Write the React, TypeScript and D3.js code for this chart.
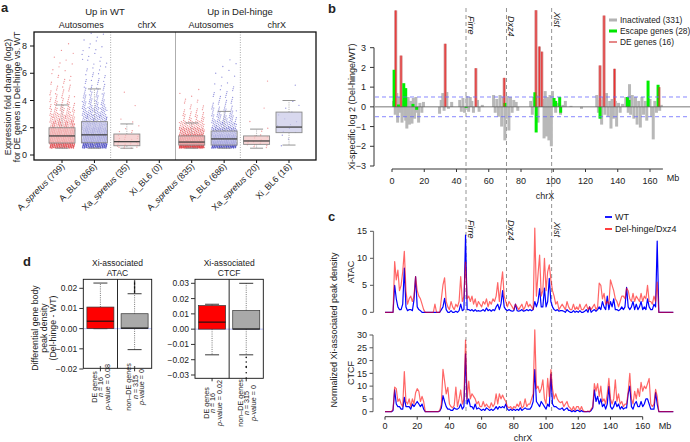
import React from 'react';
import * as d3 from 'd3';

const FONT = '"Liberation Sans", Arial, Helvetica, sans-serif';

// ---------------- Panel a data ----------------
const aLabels: [string, string, string][] = [
  ['A_', 'spretus', ' (799)'],
  ['A_BL6 (866)', '', ''],
  ['Xa_', 'spretus', ' (35)'],
  ['Xi_BL6 (0)', '', ''],
  ['A_', 'spretus', ' (835)'],
  ['A_BL6 (686)', '', ''],
  ['Xa_', 'spretus', ' (20)'],
  ['Xi_BL6 (16)', '', ''],
];
const aStrain = ['spretus', 'BL6', 'spretus', 'BL6', 'spretus', 'BL6', 'spretus', 'BL6'];
// [lower whisker, q1, median, q3, upper whisker]
const aBoxes: (number[] | null)[] = [
  [0.5, 0.88, 1.4, 2.0, 3.67],
  [0.5, 0.9, 1.48, 2.45, 4.85],
  [0.5, 0.68, 0.98, 1.54, 2.28],
  null,
  [0.5, 0.73, 0.95, 1.4, 2.35],
  [0.5, 0.73, 1.18, 1.76, 3.2],
  [0.5, 0.78, 1.03, 1.4, 1.9],
  [0.73, 1.64, 2.05, 3.15, 4.0],
];
const aBinStart = 0.5;
const aBinWidth = 0.5;
// number of genes per 0.5-wide fold-change bin, starting at 0.5
const aBinCounts = [
  [250, 170, 140, 80, 55, 35, 22, 15, 10, 7, 5, 3, 3, 2, 1, 1],
  [240, 190, 130, 90, 60, 45, 30, 22, 15, 10, 8, 6, 5, 5, 4, 3, 3],
  [14, 11, 5, 2, 1, 0, 1, 0, 1],
  [],
  [430, 210, 100, 50, 22, 12, 6, 3, 2],
  [270, 165, 100, 55, 35, 22, 12, 10, 6, 4, 3, 2, 2],
  [9, 6, 2, 1, 0, 1, 0, 0, 0, 1],
  [1, 2, 3, 3, 2, 2, 2, 0, 0, 1],
];
const aYTicks = [0, 2, 4, 6, 8];

// ---------------- Panel b data ----------------
const bInactivated: [number, number][] = [
  [1.0, 0.3], [2.0, -0.4], [3.0, 0.7], [3.5, -0.8], [4.2, 0.5], [4.8, -0.3], [5.5, 0.4], [6.2, -0.8], [6.8, 0.3], [7.8, -0.5], [8.5, -0.7], [9.2, -1.1], [10.0, 0.5], [10.8, -0.9], [11.6, 0.3], [12.4, -0.85], [13.2, 0.45], [14.0, -0.6], [14.8, 0.5], [15.6, -0.3], [16.5, -0.8], [17.3, 0.2], [18.5, -0.3], [19.5, 0.25],
  [29.5, -0.35], [30.5, 0.35], [31.5, 0.7], [32.3, -0.2], [34, 0.75], [35, -0.1], [37, 0.25],
  [42, 0.35], [43, -0.25], [44, 0.45], [45, -0.3], [46.5, 0.55], [47.5, -0.25], [48.5, 0.5], [49.5, 0.3], [50.5, -0.3], [53, 0.35], [54, -0.25], [56, 0.1],
  [63, 0.6], [64, -0.3], [65, 0.4], [66, -0.5], [67, 0.6], [68, -1.0], [69, 0.5], [70, -1.7], [70.8, -0.6], [71.5, 0.55], [72.5, -1.2], [73.5, 0.5], [74.5, -0.3], [75.5, 0.35], [77, 0.25], [78, -0.2],
  [86, 0.3], [87, -0.4], [88, 0.5], [90.5, -0.8], [91, 0.6], [93.5, 0.4], [94.3, -1.6], [95, 0.8], [95.8, -1.5], [96.5, 0.5], [97.3, -1.7], [98, 0.6], [98.8, -2.0], [99.5, 0.8],
  [101.5, -0.3], [103, 0.2], [104.5, -0.4], [106, 0.1], [107.5, 0.3], [111, 0.05], [117.5, -0.1],
  [127, 0.6], [128, -0.3], [129, 0.35], [130, -0.9], [131, 0.5], [132, -0.4], [133, 0.7], [134, -0.5], [135, 0.3], [135.8, -1.1], [136.5, 0.4], [137.3, -0.6], [138.5, 0.3], [139.3, -1.0], [140.5, 0.2], [141.5, -0.3], [143, 0.15],
  [145, 0.5], [146.5, -0.3], [147.3, 1.15], [148, -0.4], [149, 0.6], [150, -0.6], [151, 0.5], [152, -0.9], [153, 0.3], [154, -1.05], [155, 0.5], [156, -0.4], [157, 0.3], [158, -0.7], [160, 0.4], [161, -0.5], [162, -1.65], [163, 0.3], [164, -0.3], [166, -0.2], [167, 0.1],
];
const bEscape: [number, number][] = [
  [1.3, 1.88], [4.0, 0.12], [7.3, 1.2], [8.5, 0.95], [13, 0.15], [15.3, -0.15], [46, -0.05], [70, 0.2],
  [88.6, 0.74], [89.4, -1.3], [100.5, 0.45], [101.5, 0.3], [104, 0.5], [104.6, -0.3], [129, -0.6],
  [146, 0.5], [147, 0.35], [158.8, 1.33], [165, 1.12],
];
const bDE: [number, number][] = [
  [2.3, 4.89], [5.6, 2.6], [33, 3.2], [52, 1.96], [69.6, 1.47], [89.3, 4.9], [91.4, 3.06], [92.9, 2.8],
  [129, 2.1], [131.5, 4.63], [138, 1.93], [165.6, 1.0],
];
const bXTicks = [0, 20, 40, 60, 80, 100, 120, 140, 160];
const bYTicks = [-3, -2, -1, 0, 1, 2, 3];
const bLegend = ['Inactivated (331)', 'Escape genes (28)', 'DE genes (16)'];
const geneMarks = ['Firre', 'Dxz4', 'Xist'];
const geneMarkMb = [45.9, 71.0, 99.0];

// ---------------- Panel c data (1-Mb bins, 0..179 Mb) ----------------
const atacDel = [
  0, 0, 0, 0, 0, 0, 9.4, 6, 7.8, 4,
  5, 7.5, 11.3, 4, 1.5, 2.5, 3, 2, 3, 6.6,
  4, 3, 2.5, 1.5, 0.5, 0, 0, 0, 0, 0,
  0, 1.5, 0, 0, 0, 2.5, 5.1, 6.4, 2, 1,
  0.5, 2, 1, 0.5, 1.5, 1, 2, 6.6, 2, 3,
  9.3, 2.5, 3, 2, 3, 1.5, 2.5, 1, 2, 1.5,
  1, 2, 1.5, 2.5, 1, 2, 1.5, 2.5, 2, 3,
  5.5, 2, 5, 7.5, 3, 2, 1, 2, 1.5, 1,
  0.5, 1.5, 1, 0.5, 1, 1.5, 0.5, 1, 2, 1,
  1.5, 1, 0.5, 15.6, 3, 7, 10.6, 3, 4, 10,
  4, 7.5, 8.8, 6, 4, 3, 1.5, 2, 0.5, 1,
  1.5, 1, 0.5, 2, 1, 0.5, 0.5, 1.5, 0.5, 1,
  0.5, 1.5, 0.5, 0.5, 1, 1.5, 0.5, 1, 0.5, 1,
  1.5, 0.5, 1, 5.4, 5, 2.5, 3.5, 1.5, 2, 1.5,
  6, 5, 4, 2.5, 2, 1, 2, 3, 3, 2.5,
  4.5, 4, 2.5, 2, 3.5, 2, 3, 2.5, 2, 3.5,
  2, 3, 2.5, 5, 2, 2, 1.5, 3, 2, 5.6,
  0, 0, 0, 0, 0, 0, 0, 0, 0, 0,
];
const atacWT = [
  0, 0, 0, 0, 0, 0, 5, 2.5, 1, 0.5,
  0.5, 1.5, 8.2, 1, 0.3, 0.5, 0.5, 0.3, 2.3, 6.6,
  1, 0.5, 0.3, 0, 0, 0, 0, 0, 0, 0,
  0, 0, 0, 0, 0, 0.5, 1, 2.6, 0.5, 0,
  0, 0.3, 0, 0, 0.2, 0, 0.3, 1.5, 0.3, 0.5,
  14.3, 0.5, 0.5, 0.3, 0.5, 0.2, 0.5, 0.2, 0.3, 0.2,
  0.3, 0.5, 0.2, 0.8, 0.3, 0.5, 0.2, 0.5, 0.3, 1,
  1.5, 0.5, 1.5, 4, 1, 0.5, 0.3, 0.5, 0.3, 0.2,
  0.3, 1.5, 0.3, 0.2, 0.3, 0.5, 0.2, 0.3, 0.5, 0.3,
  0.5, 0.3, 0.5, 2, 1, 2, 4.4, 1, 1, 4.5,
  1, 2, 6.3, 2, 1, 0.5, 0.3, 0.5, 0.2, 0.3,
  0.3, 0.2, 0, 0.5, 0.2, 0, 0, 0.3, 0, 0.2,
  0, 0.3, 0, 0, 0.2, 0.5, 0, 1, 0, 0.3,
  0.5, 0.2, 0.5, 1, 0.5, 2, 1, 0.5, 3, 0.5,
  2, 1, 2.5, 0.5, 0.5, 0.3, 0.5, 1, 0.5, 1,
  4.6, 1, 0.5, 1, 2, 0.5, 1.5, 0.5, 1, 2,
  0.5, 1, 0.5, 2.5, 1, 0.5, 0.5, 1.5, 1, 13.2,
  0, 0, 0, 0, 0, 0, 0, 0, 0, 0,
];
const ctcfDel = [
  0, 0, 0, 0, 0, 1, 9.6, 9, 4, 5,
  3, 2, 15.7, 4, 3, 5, 2, 5, 3, 7.4,
  9, 8, 4, 6, 4, 0, 0, 0, 0, 0,
  0, 0, 0, 0, 0.5, 3, 16.6, 12, 7, 9.5,
  3, 2, 1.5, 2.5, 9.6, 2, 5, 8.5, 3, 5,
  28, 5, 12, 5, 7, 6, 5, 3, 4, 2,
  2, 4, 2, 3, 2, 1.5, 3.5, 2, 3, 7,
  3, 7, 5, 6.5, 5, 4, 2, 1.5, 2, 1,
  2, 1.5, 3, 2, 4, 1.5, 2, 5, 2, 3,
  3, 5, 7, 32, 9, 10, 7.5, 9, 12.5, 5,
  3, 13, 6, 16.5, 9, 5, 7, 5, 4, 3.5,
  4, 2, 3, 4, 2, 1.5, 0.5, 2, 0.5, 2,
  2, 0.5, 2, 0.5, 0, 0, 0.3, 0, 1, 2,
  11, 8, 11, 6, 10, 4, 5, 3, 7, 13,
  5, 3, 5, 12.5, 4, 7, 3, 4, 2, 3,
  3, 8, 15, 5, 3, 8, 5, 9, 6, 11.5,
  8, 10, 9, 11, 13, 3, 2, 3, 8.7, 6,
  0, 0, 0, 0, 0, 0, 0, 0, 0, 0,
];
const ctcfWT = [
  0, 0, 0, 0, 0, 0.5, 8.5, 3, 2, 2,
  1, 1, 5.6, 2, 2, 2, 1, 3, 2, 3,
  4, 3, 2, 3, 1, 0, 0, 0, 0, 0,
  0, 0, 0, 0, 0.3, 1.5, 6.3, 4, 2, 1,
  1, 0.5, 0.5, 1.5, 1, 1, 1.5, 3, 1, 2,
  22.6, 3, 5, 2, 2, 1, 3, 1, 1.5, 1,
  0.5, 1, 0.5, 1.5, 1, 0.5, 1, 0.5, 1, 2,
  1, 2, 1.5, 2, 1.5, 3, 1, 0.5, 1, 0.5,
  1, 0.5, 1, 0.5, 1.5, 0.5, 1, 1.5, 1, 1,
  1, 2, 4, 16.5, 4, 3, 2, 4, 3, 2,
  1, 3, 2, 14.7, 3, 2, 2, 1.5, 1, 1,
  1.5, 0.5, 1, 1.5, 0.5, 0.5, 0, 0.5, 0, 0.5,
  0.5, 0, 0.5, 0, 0, 0, 0, 0, 0.5, 1.5,
  8.5, 4, 6, 3, 5, 2, 3, 1, 3, 9.9,
  2, 1, 2, 4, 2, 3, 1, 2, 1, 1.5,
  1.5, 7, 10, 2, 1, 3, 4, 2, 2, 4,
  2, 3, 5, 5, 3, 1, 1, 1, 7.5, 3,
  0, 0, 0, 0, 0, 0, 0, 0, 0, 0,
];
const cXTicks = [0, 20, 40, 60, 80, 100, 120, 140, 160];
const atacTicks = [0, 5, 10, 15];
const ctcfTicks = [0, 5, 10, 15, 20, 25, 30];
const cLegend = ['WT', 'Del-hinge/Dxz4'];

// ---------------- Panel d data ----------------
// [lower whisker, q1, median, q3, upper whisker] for DE and non-DE genes
const dAtacBoxes = [
  [0, 0, 0.0037, 0.0107, 0.0226],
  [-0.0104, 0, 0.0003, 0.0074, 0.0173],
];
const dAtacOutliers = [
  [-0.019],
  [0.0178, 0.0184, 0.019, 0.0197, 0.0204, 0.021, 0.0217, 0.0224, 0.023, 0.0236, -0.019],
];
const dCtcfBoxes = [
  [-0.0168, 0, 0.0046, 0.0154, 0.0163],
  [-0.0168, 0, 0.0001, 0.0122, 0.03],
];
const dCtcfOutliers = [
  [],
  [-0.0185, -0.0215, -0.0245, -0.025, -0.0285, -0.032],
];
const dAtacTicks = [-0.02, -0.01, 0, 0.01, 0.02];
const dCtcfTicks = [-0.03, -0.02, -0.01, 0, 0.01, 0.02, 0.03];
const dGroupNames = ['DE genes', 'non–DE genes'];
const dCounts = ['16', '315'];
const dAtacP = ['0.08', '0'];
const dCtcfP = ['0.02', '0'];

const fmtMinus = (s: string) => s.replace('-', '−');

function PanelA() {
  const xA = d3.scaleLinear().domain([0, 7]).range([62, 289]);
  const yA = d3.scaleLinear().domain([0, 8]).range([155, 46]);
  const bw = 26;
  const pts: { g: number; v: number; dx: number }[] = [];
  aBinCounts.forEach((counts, g) => {
    counts.forEach((n, b) => {
      for (let j = 0; j < n; j++) {
        const fx = (0.5 + (j + b * 7 + g * 13) * 0.7548776662) % 1;
        const fy = (0.5 + (j + b * 7 + g * 13) * 0.5698402910) % 1;
        pts.push({ g, v: aBinStart + b * aBinWidth + fy * aBinWidth, dx: (fx - 0.5) * 2 });
      }
    });
  });
  const ptColor = (g: number) => (aStrain[g] === 'spretus' ? '#e0393e' : '#3b3bc0');
  const boxFill = (g: number) => (aStrain[g] === 'spretus' ? '#f3c3c3' : '#c9c9e7');
  return (
    <g>
      <text x={1} y={12} fontSize={13} fontWeight="bold">a</text>
      <text x={105} y={15} fontSize={9.5} textAnchor="middle">Up in WT</text>
      <text x={240} y={15} fontSize={9.5} textAnchor="middle">Up in Del-hinge</text>
      <text x={(xA(0) + xA(1)) / 2 + 3} y={28} fontSize={9} textAnchor="middle">Autosomes</text>
      <text x={(xA(2) + xA(3)) / 2 + 4} y={28} fontSize={9} textAnchor="middle">chrX</text>
      <text x={(xA(4) + xA(5)) / 2 + 3} y={28} fontSize={9} textAnchor="middle">Autosomes</text>
      <text x={(xA(6) + xA(7)) / 2 + 4} y={28} fontSize={9} textAnchor="middle">chrX</text>
      {/* separators */}
      <line x1={(xA(1) + xA(2)) / 2} x2={(xA(1) + xA(2)) / 2} y1={32} y2={160} stroke="#aaa" strokeDasharray="1,1.5" />
      <line x1={(xA(3) + xA(4)) / 2} x2={(xA(3) + xA(4)) / 2} y1={32} y2={160} stroke="#999" strokeWidth={0.8} />
      <line x1={(xA(5) + xA(6)) / 2} x2={(xA(5) + xA(6)) / 2} y1={32} y2={160} stroke="#aaa" strokeDasharray="1,1.5" />
      {/* points */}
      {pts.map((p, i) => (
        <circle key={i} cx={xA(p.g) + p.dx * 12.5} cy={yA(p.v)} r={0.65} fill={ptColor(p.g)} fillOpacity={0.55} />
      ))}
      {/* boxes */}
      {aBoxes.map((b, g) => {
        if (!b) return null;
        const cx = xA(g);
        return (
          <g key={g}>
            <line x1={cx} x2={cx} y1={yA(b[3])} y2={yA(b[4])} stroke="#999" strokeDasharray="1,1.2" strokeWidth={0.8} />
            <line x1={cx} x2={cx} y1={yA(b[1])} y2={yA(b[0])} stroke="#999" strokeDasharray="1,1.2" strokeWidth={0.8} />
            <line x1={cx - 6.5} x2={cx + 6.5} y1={yA(b[4])} y2={yA(b[4])} stroke="#888" strokeWidth={0.9} />
            <line x1={cx - 6.5} x2={cx + 6.5} y1={yA(b[0])} y2={yA(b[0])} stroke="#888" strokeWidth={0.9} />
            <rect x={cx - bw / 2} y={yA(b[3])} width={bw} height={yA(b[1]) - yA(b[3])} fill={boxFill(g)} fillOpacity={0.72} stroke="#8a8a8a" strokeWidth={0.9} />
            <line x1={cx - bw / 2} x2={cx + bw / 2} y1={yA(b[2])} y2={yA(b[2])} stroke="#444" strokeWidth={1.3} />
          </g>
        );
      })}
      <rect x={34} y={32} width={282} height={128} fill="none" stroke="#111" strokeWidth={1.3} />
      {/* y axis */}
      {aYTicks.map((t) => (
        <g key={t}>
          <line x1={30} x2={34} y1={yA(t)} y2={yA(t)} stroke="#111" />
          <text x={27} y={yA(t)} dy="0.35em" fontSize={9} textAnchor="end">{t}</text>
        </g>
      ))}
      <text transform="translate(11,97) rotate(-90)" fontSize={8.8} textAnchor="middle">Expression fold change (log2)</text>
      <text transform="translate(20,97) rotate(-90)" fontSize={8.8} textAnchor="middle">for DE genes in Del-hinge vs. WT</text>
      {/* x ticks and labels */}
      {aLabels.map((l, g) => (
        <g key={g}>
          <line x1={xA(g)} x2={xA(g)} y1={160} y2={163} stroke="#111" />
          <text transform={`translate(${xA(g) + 3},167) rotate(-45)`} fontSize={8.8} textAnchor="end">
            {l[0]}
            {l[1] ? <tspan fontStyle="italic">{l[1]}</tspan> : null}
            {l[2]}
          </text>
        </g>
      ))}
    </g>
  );
}

function PanelB() {
  const xB = d3.scaleLinear().domain([0, 160]).range([392, 650]);
  const yB = d3.scaleLinear().domain([-3, 3]).range([166, 47.7]);
  const bar = (mb: number, v: number, w: number, fill: string, key: string, op = 1) => (
    <rect key={key} x={xB(mb) - w / 2} y={Math.min(yB(v), yB(0))} width={w} height={Math.abs(yB(v) - yB(0))} fill={fill} fillOpacity={op} />
  );
  const legendColors = ['#b3b3b3', '#00e600', '#e06a6a'];
  return (
    <g>
      <text x={328} y={13} fontSize={13} fontWeight="bold">b</text>
      {bInactivated.map((d, i) => bar(d[0], d[1], 3, '#b8b8b8', 'g' + i))}
      {bDE.map((d, i) => bar(d[0], d[1], 3, '#cf8a8a', 'dg' + i))}
      {bEscape.map((d, i) => bar(d[0], d[1], 3, '#00ee00', 'e' + i))}
      {bDE.map((d, i) => bar(d[0], d[1], 1.1, '#f52020', 'd' + i, 0.85))}
      <line x1={375} x2={690} y1={yB(0)} y2={yB(0)} stroke="#555" strokeWidth={0.8} />
      <line x1={375} x2={690} y1={yB(0.5)} y2={yB(0.5)} stroke="#6a6aff" strokeWidth={0.8} strokeDasharray="4,3" />
      <line x1={375} x2={690} y1={yB(-0.5)} y2={yB(-0.5)} stroke="#6a6aff" strokeWidth={0.8} strokeDasharray="4,3" />
      {/* y axis */}
      <line x1={374} x2={374} y1={yB(-3)} y2={yB(3)} stroke="#333" />
      {bYTicks.map((t) => (
        <g key={t}>
          <line x1={370} x2={374} y1={yB(t)} y2={yB(t)} stroke="#333" />
          <text x={366} y={yB(t)} dy="0.35em" fontSize={9} textAnchor="end">{fmtMinus(String(t))}</text>
        </g>
      ))}
      <text transform={`translate(355,${yB(0)}) rotate(-90)`} fontSize={9} textAnchor="middle">Xi-specific log 2 (Del-hinge/WT)</text>
      {/* x axis */}
      <line x1={xB(0)} x2={xB(168)} y1={169} y2={169} stroke="#333" />
      {bXTicks.map((t) => (
        <g key={t}>
          <line x1={xB(t)} x2={xB(t)} y1={169} y2={172} stroke="#333" />
          <text x={xB(t)} y={184} fontSize={9} textAnchor="middle">{t}</text>
        </g>
      ))}
      <text x={673} y={181} fontSize={9} textAnchor="middle">Mb</text>
      <text x={545} y={199} fontSize={9} textAnchor="middle">chrX</text>
      {/* legend */}
      {bLegend.map((s, i) => (
        <g key={s}>
          <line x1={609} x2={617} y1={20 + i * 11} y2={20 + i * 11} stroke={legendColors[i]} strokeWidth={i === 2 ? 1.6 : 3} />
          <text x={620} y={20 + i * 11} dy="0.35em" fontSize={8.4}>{s}</text>
        </g>
      ))}
    </g>
  );
}

function PanelC() {
  const xC = d3.scaleLinear().domain([0, 160]).range([385, 642.7]);
  const yAt = d3.scaleLinear().domain([0, 15]).range([312.3, 231.3]);
  const yCt = d3.scaleLinear().domain([0, 30]).range([411.7, 335]);
  const lineAt = d3.line<number>().x((_, i) => xC(i)).y((d) => yAt(d));
  const lineCt = d3.line<number>().x((_, i) => xC(i)).y((d) => yCt(d));
  return (
    <g>
      <text x={328} y={221} fontSize={13} fontWeight="bold">c</text>
      {cLegend.map((s, i) => (
        <g key={s}>
          <line x1={605} x2={612} y1={217 + i * 12} y2={217 + i * 12} stroke={i === 0 ? '#0000ff' : '#ff2a2a'} strokeWidth={1.8} />
          <text x={615} y={217 + i * 12} dy="0.35em" fontSize={9}>{s}</text>
        </g>
      ))}
      <path d={lineAt(atacWT) || ''} fill="none" stroke="#0000ff" strokeWidth={1.2} strokeLinejoin="round" />
      <path d={lineAt(atacDel) || ''} fill="none" stroke="#ff0000" strokeOpacity={0.6} strokeWidth={1.2} strokeLinejoin="round" />
      <path d={lineCt(ctcfWT) || ''} fill="none" stroke="#0000ff" strokeWidth={1.2} strokeLinejoin="round" />
      <path d={lineCt(ctcfDel) || ''} fill="none" stroke="#ff0000" strokeOpacity={0.6} strokeWidth={1.2} strokeLinejoin="round" />
      {/* ATAC axis */}
      <line x1={373.5} x2={373.5} y1={yAt(0)} y2={yAt(15)} stroke="#777" strokeWidth={1.2} />
      {atacTicks.map((t) => (
        <g key={t}>
          <line x1={370} x2={373.5} y1={yAt(t)} y2={yAt(t)} stroke="#555" />
          <text x={367} y={yAt(t)} dy="0.35em" fontSize={9} textAnchor="end">{t}</text>
        </g>
      ))}
      <text transform={`translate(354,272) rotate(-90)`} fontSize={9} textAnchor="middle">ATAC</text>
      {/* CTCF axis */}
      <line x1={373} x2={373} y1={yCt(0)} y2={yCt(30)} stroke="#777" strokeWidth={1.2} />
      {ctcfTicks.map((t) => (
        <g key={t}>
          <line x1={369.5} x2={373} y1={yCt(t)} y2={yCt(t)} stroke="#555" />
          <text x={367} y={yCt(t)} dy="0.35em" fontSize={9} textAnchor="end">{t}</text>
        </g>
      ))}
      <text transform={`translate(354,373) rotate(-90)`} fontSize={9} textAnchor="middle">CTCF</text>
      <text transform={`translate(337,330) rotate(-90)`} fontSize={9} textAnchor="middle">Normalized Xi-associated peak density</text>
      {/* x axis */}
      <line x1={xC(0)} x2={xC(160)} y1={416.7} y2={416.7} stroke="#333" />
      {cXTicks.map((t) => (
        <g key={t}>
          <line x1={xC(t)} x2={xC(t)} y1={416.7} y2={419.7} stroke="#333" />
          <text x={xC(t)} y={429} fontSize={9} textAnchor="middle">{t}</text>
        </g>
      ))}
      <text x={665} y={429} fontSize={9} textAnchor="middle">Mb</text>
      <text x={523} y={441} fontSize={9} textAnchor="middle">chrX</text>
    </g>
  );
}

function GeneMarks() {
  const xB = d3.scaleLinear().domain([0, 160]).range([392, 650]);
  return (
    <g>
      {geneMarks.map((g, i) => {
        const x = xB(geneMarkMb[i]);
        return (
          <g key={g}>
            <line x1={x} x2={x} y1={8} y2={413} stroke="#888" strokeWidth={0.9} strokeDasharray="4,3" />
            <text transform={`translate(${x + 2},${i === 2 ? 12 : 16}) rotate(90)`} fontSize={9} fontStyle="italic">{g}</text>
            <text transform={`translate(${x + 2},${i === 2 ? 222 : 220}) rotate(90)`} fontSize={9} fontStyle="italic">{g}</text>
          </g>
        );
      })}
    </g>
  );
}

function BoxPanel(props: {
  x0: number; x1: number; y0: number; y1: number; yDomain: [number, number]; yRange: [number, number];
  ticks: number[]; boxes: number[][]; outliers: number[][]; title: string; pvals: string[]; labelY: number;
}) {
  const { x0, x1, y0, y1, ticks, boxes, outliers, title, pvals, labelY } = props;
  const y = d3.scaleLinear().domain(props.yDomain).range(props.yRange);
  const xm = (x0 + x1) / 2;
  const centers = [(x0 + xm) / 2, (xm + x1) / 2];
  const hw = 13.5;
  const fills = ['#ff0000', '#a9a9a9'];
  return (
    <g>
      <text x={xm} y={266} fontSize={8.5} textAnchor="middle">Xi-associated</text>
      <text x={xm} y={275.5} fontSize={8.5} textAnchor="middle">{title}</text>
      <line x1={x0} x2={x1} y1={y(0)} y2={y(0)} stroke="#aab2ff" strokeWidth={0.8} />
      {boxes.map((b, i) => {
        const cx = centers[i];
        return (
          <g key={i}>
            <line x1={cx} x2={cx} y1={y(b[3])} y2={y(b[4])} stroke="#555" strokeDasharray="1,1.2" strokeWidth={0.8} />
            <line x1={cx} x2={cx} y1={y(b[1])} y2={y(b[0])} stroke="#555" strokeDasharray="1,1.2" strokeWidth={0.8} />
            <line x1={cx - 7} x2={cx + 7} y1={y(b[4])} y2={y(b[4])} stroke="#222" strokeWidth={0.9} />
            <line x1={cx - 7} x2={cx + 7} y1={y(b[0])} y2={y(b[0])} stroke="#222" strokeWidth={0.9} />
            <rect x={cx - hw} y={y(b[3])} width={hw * 2} height={y(b[1]) - y(b[3])} fill={fills[i]} stroke="#333" strokeWidth={0.7} />
            <line x1={cx - hw} x2={cx + hw} y1={y(b[2])} y2={y(b[2])} stroke="#111" strokeWidth={1.1} />
            {outliers[i].map((v, k) => (
              <circle key={k} cx={cx} cy={y(v)} r={0.8} fill="#111" />
            ))}
            <line x1={cx} x2={cx} y1={y1} y2={y1 + 3} stroke="#333" />
            <text transform={`translate(${cx - 3.5},${labelY}) rotate(-90)`} fontSize={7.2} textAnchor="middle">{dGroupNames[i]}</text>
            <text transform={`translate(${cx + 3},${labelY}) rotate(-90)`} fontSize={7.2} textAnchor="middle">
              <tspan fontStyle="italic">n</tspan> = {dCounts[i]}
            </text>
            <text transform={`translate(${cx + 9.5},${labelY}) rotate(-90)`} fontSize={7.2} textAnchor="middle">
              <tspan fontStyle="italic">p</tspan>-value = {pvals[i]}
            </text>
          </g>
        );
      })}
      <rect x={x0} y={y0} width={x1 - x0} height={y1 - y0} fill="none" stroke="#111" strokeWidth={0.9} />
      <line x1={xm} x2={xm} y1={y0} y2={y1} stroke="#111" strokeWidth={0.9} />
      {ticks.map((t) => (
        <g key={t}>
          <line x1={x0 - 4} x2={x0} y1={y(t)} y2={y(t)} stroke="#333" />
          <text x={x0 - 6} y={y(t)} dy="0.35em" fontSize={8.5} textAnchor="end">{fmtMinus(t.toFixed(2))}</text>
        </g>
      ))}
    </g>
  );
}

function PanelD() {
  return (
    <g>
      <text x={23} y={266} fontSize={13} fontWeight="bold">d</text>
      <text transform="translate(38,328) rotate(-90)" fontSize={8.8} textAnchor="middle">Differential gene body</text>
      <text transform="translate(47,328) rotate(-90)" fontSize={8.8} textAnchor="middle">peak density</text>
      <text transform="translate(56,328) rotate(-90)" fontSize={8.8} textAnchor="middle">(Del-hinge - WT)</text>
      <BoxPanel x0={83.3} x1={151.7} y0={279.3} y1={368.3} yDomain={[-0.02, 0.02]} yRange={[369, 288.3]}
        ticks={dAtacTicks} boxes={dAtacBoxes} outliers={dAtacOutliers} title="ATAC" pvals={dAtacP} labelY={387} />
      <BoxPanel x0={195} x1={263.3} y0={279.3} y1={378.3} yDomain={[-0.03, 0.03]} yRange={[375, 283.3]}
        ticks={dCtcfTicks} boxes={dCtcfBoxes} outliers={dCtcfOutliers} title="CTCF" pvals={dCtcfP} labelY={403} />
    </g>
  );
}

export default function App() {
  return (
    <svg width={690} height={442} style={{ position: 'absolute', left: 0, top: 0, background: '#fff' }} fontFamily={FONT} fill="#222">
      <rect width={690} height={442} fill="#fff" />
      <PanelA />
      <GeneMarks />
      <PanelB />
      <PanelC />
      <PanelD />
    </svg>
  );
}
